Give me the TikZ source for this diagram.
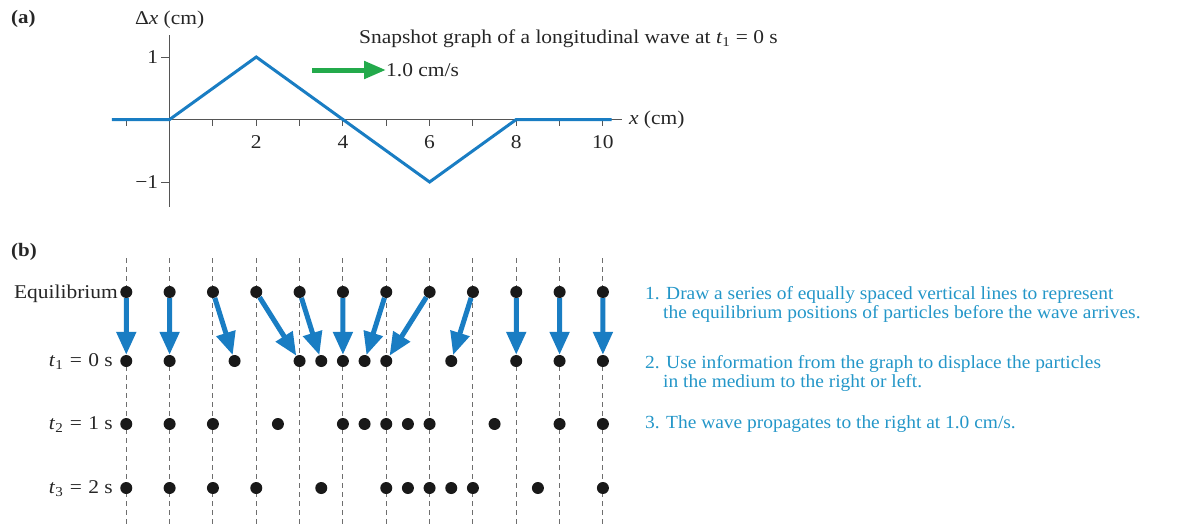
\documentclass[tikz,border=0pt]{standalone}
\usepackage{fontspec}
\setmainfont{Liberation Serif}[FakeStretch=1.1]
\newfontfamily\rfont{Liberation Serif}[FakeStretch=1.05]
\usetikzlibrary{arrows.meta}
\definecolor{wblue}{RGB}{25,125,195}
\definecolor{tblue}{RGB}{35,150,200}
\definecolor{wgreen}{RGB}{35,170,75}
\definecolor{axgray}{RGB}{85,85,85}
\definecolor{dgray}{RGB}{110,110,110}
\begin{document}
\begin{tikzpicture}[x=1pt,y=-1pt,
  lbl/.style={font=\fontsize{19.5}{20}\selectfont, inner sep=0pt, text=black!85},
  rtxt/.style={font=\rfont\fontsize{18.5}{20}\selectfont, inner sep=0pt, text=tblue, anchor=base west},
  dot/.style={circle, fill=black!90, minimum size=12pt, inner sep=0pt},
  eqline/.style={draw=dgray, line width=1pt, dash pattern=on 5pt off 4pt},
  barrow/.style={draw=wblue, line width=5pt, -{Triangle[width=19pt,length=23pt]}},
  garrow/.style={draw=wgreen, line width=5pt, -{Triangle[width=17pt,length=22pt]}},
  axis/.style={draw=axgray, line width=1pt},
  wave/.style={draw=wblue, line width=3pt, line join=miter}]
\useasboundingbox (0,0) rectangle (1190,525);

% ---------- (a) ----------
\node[lbl, font=\fontsize{19}{20}\selectfont\bfseries, anchor=west] (la) at (11,19) {(a)};
\begin{scope}[shift={(169.6,119.5)}, x=43.33pt, y=62.5pt]
  \draw[axis] (-1.33,0) -- (10.45,0);
  \draw[axis] (0,1.35) -- (0,-1.4);
  \foreach \u in {-1,1,2,...,10} \draw[axis] (\u,0) -- (\u,-0.1);
  \draw[axis] (0,1) -- (-0.2,1);
  \draw[axis] (0,-1) -- (-0.2,-1);
  \draw[wave] (-1.33,0) -- (0,0) -- (2,1) -- (6,-1) -- (8,0) -- (10.2,0);
  \foreach \u in {2,4,6,8,10} \node[lbl] (n\u) at (\u,-0.36) {\u};
  \node[lbl, anchor=east] (y1) at (-0.26,1) {1};
  \node[lbl, anchor=east] (ym1) at (-0.26,-1) {−1};
  \node[lbl] (ylab) at (0,1.6) {Δ\textit{x} (cm)};
  \node[lbl, anchor=west] (xlab) at (10.6,0) {\textit{x} (cm)};
\end{scope}
\node[lbl, anchor=base west] (snap) at (359,43) {Snapshot graph of a longitudinal wave at \textit{t}\textsubscript{1} = 0 s};
\node[lbl, anchor=west] (vel) at (386,70) {1.0 cm/s};
\coordinate (gstart) at (312,70);
\draw[garrow] (gstart) -- (vel.west);

% ---------- (b) ----------
\node[lbl, font=\fontsize{19}{20}\selectfont\bfseries, anchor=west] (lb) at (11,252) {(b)};
\foreach \i in {1,...,12} \draw[eqline] ({126.3+43.33*(\i-1)},258) -- ({126.3+43.33*(\i-1)},525);

\node[lbl, anchor=base east] (leq) at (118,298) {Equilibrium};
\node[lbl, anchor=base east] (lt1) at (113,366) {\textit{t}\textsubscript{1}\,\,=\,\,0 s};
\node[lbl, anchor=base east] (lt2) at (113,429) {\textit{t}\textsubscript{2}\,\,=\,\,1 s};
\node[lbl, anchor=base east] (lt3) at (113,493) {\textit{t}\textsubscript{3}\,\,=\,\,2 s};

\foreach \i in {1,...,12} \node[dot] (e\i) at ({126.3+43.33*(\i-1)},292) {};
\foreach \u [count=\i] in {-1,0,1.5,3,3.5,4,4.5,5,6.5,8,9,10}
  \node[dot] (p\i) at ({169.6+43.33*\u},361) {};
\foreach \u [count=\i] in {-1,0,1,2.5,4,4.5,5,5.5,6,7.5,9,10}
  \node[dot] (q\i) at ({169.6+43.33*\u},424) {};
\foreach \u [count=\i] in {-1,0,1,2,3.5,5,5.5,6,6.5,7,8.5,10}
  \node[dot] (r\i) at ({169.6+43.33*\u},488) {};
\foreach \i in {1,...,12} \draw[barrow] (e\i) -- (p\i);

\node[rtxt] (s1a) at (645,299) {1. Draw a series of equally spaced vertical lines to represent};
\node[rtxt] (s1b) at (663,318) {the equilibrium positions of particles before the wave arrives.};
\node[rtxt] (s2a) at (645,368) {2. Use information from the graph to displace the particles};
\node[rtxt] (s2b) at (663,387) {in the medium to the right or left.};
\node[rtxt] (s3) at (645,428) {3. The wave propagates to the right at 1.0 cm/s.};
\end{tikzpicture}
\end{document}
